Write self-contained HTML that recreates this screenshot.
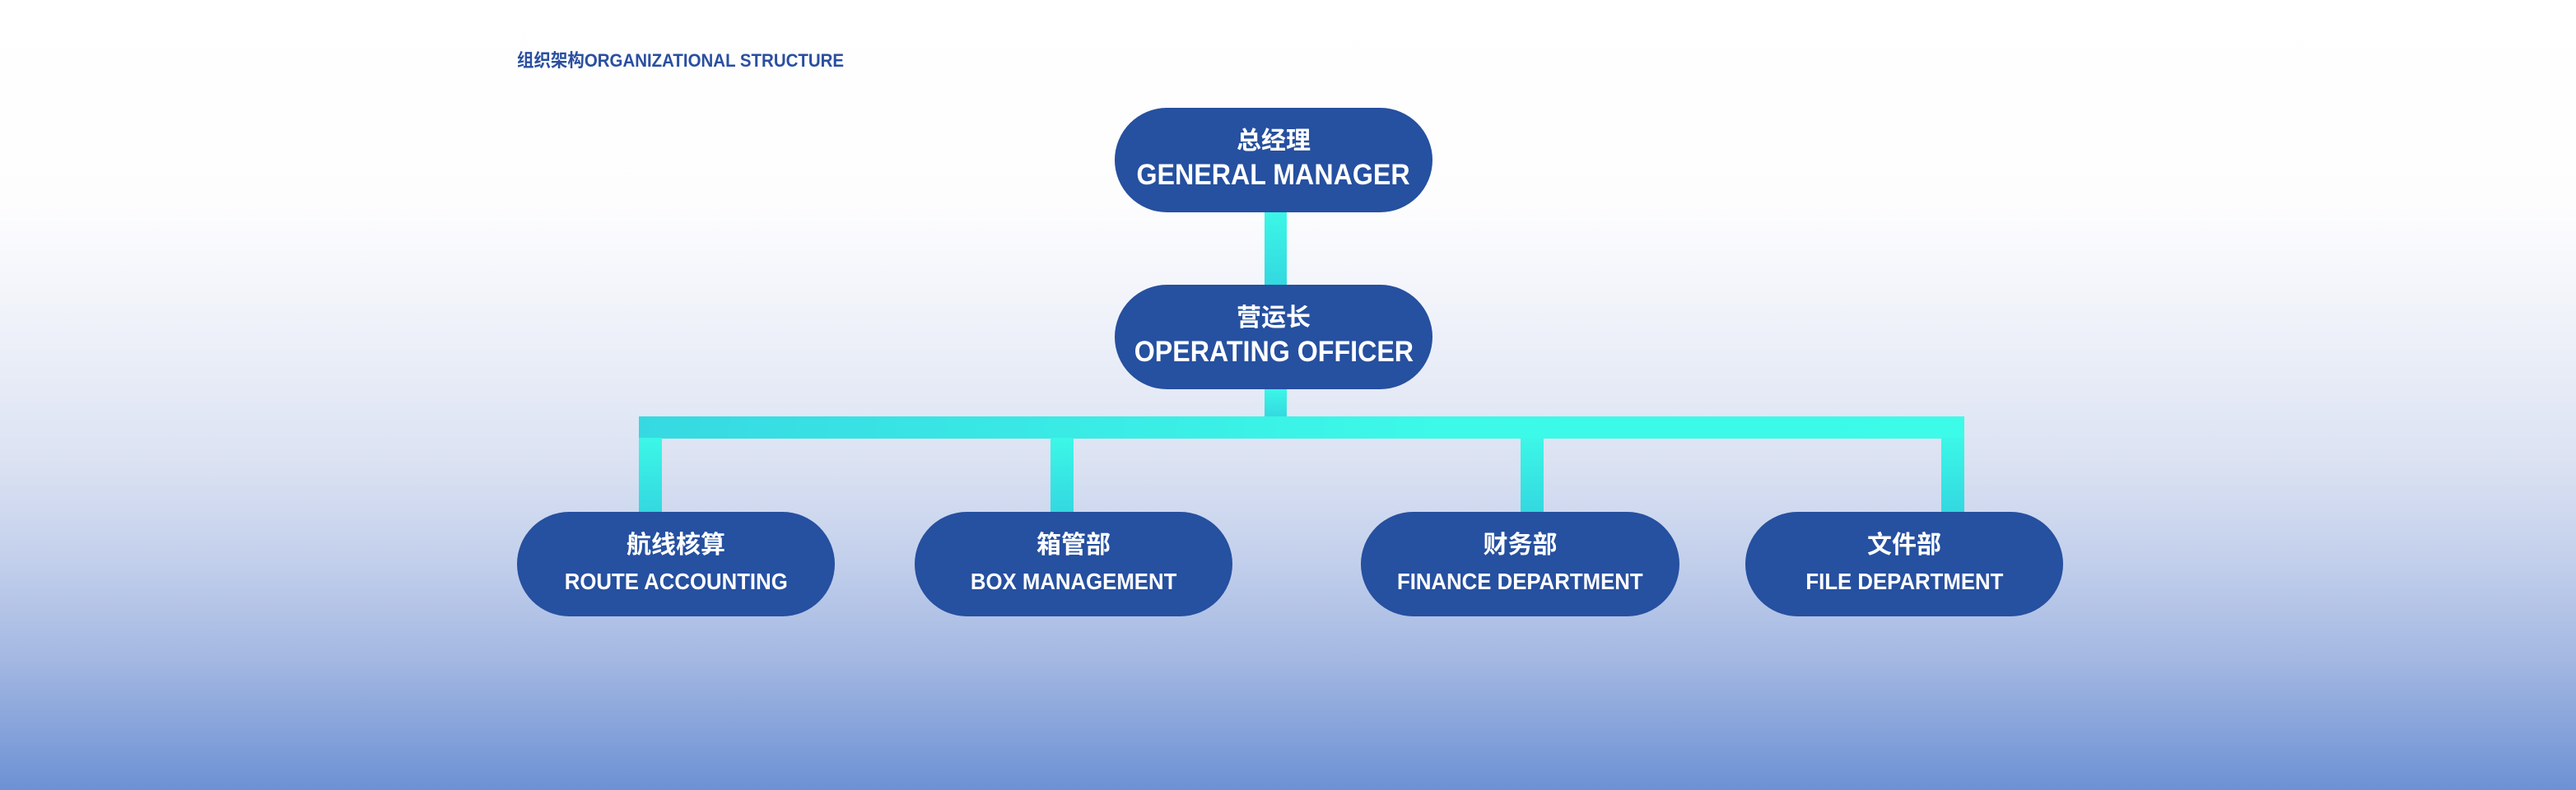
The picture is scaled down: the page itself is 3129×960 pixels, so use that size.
<!DOCTYPE html>
<html><head><meta charset="utf-8"><style>
html,body{margin:0;padding:0}
body{width:3129px;height:960px;position:relative;overflow:hidden;
background:linear-gradient(to bottom,#ffffff 0px,#fdfdfe 250px,#eef1f9 400px,#dbe2f2 560px,#c3d0ec 680px,#a4b8e2 800px,#6d91d4 960px);
font-family:"Liberation Sans","Noto Sans CJK SC",sans-serif;}
.title{position:absolute;left:628px;top:56px;font-size:22px;font-weight:bold;color:#2a4fa0;white-space:nowrap;transform:scaleX(0.93);transform-origin:left center;}
.node{position:absolute;background:#2650a0;border-radius:64px;color:#fff;text-align:center;font-weight:bold;}
.cn{position:absolute;left:0;right:0;line-height:1;}
.en{position:absolute;left:0;right:0;line-height:1;white-space:nowrap;}
.en span{display:inline-block;transform:scaleX(0.92);}
.line{position:absolute;}
.v{background:linear-gradient(to bottom,#3cf7e7,#33d8e0);}
.h{background:linear-gradient(to right,#36d9e2,#3cf9e8 60%,#3cfbe8);}
</style></head><body>
<div class="title">组织架构ORGANIZATIONAL STRUCTURE</div>

<div class="line v" style="left:1536px;top:257px;width:27px;height:90px"></div>
<div class="line v" style="left:1536px;top:472px;width:27px;height:36px"></div>
<div class="line h" style="left:776px;top:506px;width:1610px;height:27px"></div>
<div class="line v" style="left:776px;top:532px;width:28px;height:91px"></div>
<div class="line v" style="left:1276px;top:532px;width:28px;height:91px"></div>
<div class="line v" style="left:1847px;top:532px;width:28px;height:91px"></div>
<div class="line v" style="left:2358px;top:532px;width:28px;height:91px"></div>

<div class="node" style="left:1354px;top:131px;width:386px;height:127px">
 <div class="cn" style="top:26px;font-size:30px">总经理</div>
 <div class="en" style="top:64px;font-size:35px"><span>GENERAL MANAGER</span></div>
</div>
<div class="node" style="left:1354px;top:346px;width:386px;height:127px">
 <div class="cn" style="top:26px;font-size:30px">营运长</div>
 <div class="en" style="top:64px;font-size:35px"><span>OPERATING OFFICER</span></div>
</div>

<div class="node" style="left:628px;top:622px;width:386px;height:127px">
 <div class="cn" style="top:26px;font-size:30px">航线核算</div>
 <div class="en" style="top:71px;font-size:28px"><span>ROUTE ACCOUNTING</span></div>
</div>
<div class="node" style="left:1111px;top:622px;width:386px;height:127px">
 <div class="cn" style="top:26px;font-size:30px">箱管部</div>
 <div class="en" style="top:71px;font-size:28px"><span>BOX MANAGEMENT</span></div>
</div>
<div class="node" style="left:1653px;top:622px;width:387px;height:127px">
 <div class="cn" style="top:26px;font-size:30px">财务部</div>
 <div class="en" style="top:71px;font-size:28px"><span>FINANCE DEPARTMENT</span></div>
</div>
<div class="node" style="left:2120px;top:622px;width:386px;height:127px">
 <div class="cn" style="top:26px;font-size:30px">文件部</div>
 <div class="en" style="top:71px;font-size:28px"><span>FILE DEPARTMENT</span></div>
</div>
</body></html>
